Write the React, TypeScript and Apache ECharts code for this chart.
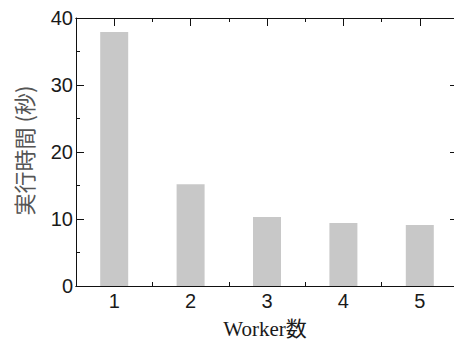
import React, { useEffect, useRef } from "react";
import * as echarts from "echarts";

const categories = ["1", "2", "3", "4", "5"];
const execTimes = [37.9, 15.2, 10.3, 9.4, 9.1];
const yTicks = { min: 0, max: 40, interval: 10 };
const xName = "Worker数";
const yName = "実行時間 (秒)";

export default function App() {
  const ref = useRef<HTMLDivElement>(null);
  useEffect(() => {
    if (!ref.current) return;
    const chart = echarts.init(ref.current, undefined, { renderer: "svg" });
    const lineColor = "#111";
    const baseCat = (position: string, major: boolean, showLabel: boolean, withName: boolean) => ({
      type: "category",
      data: categories,
      position,
      boundaryGap: true,
      axisLine: { show: true, onZero: false, lineStyle: { color: lineColor, width: 1 } },
      axisTick: {
        show: true,
        inside: true,
        alignWithLabel: major,
        length: major ? 8 : 4,
        lineStyle: { color: lineColor, width: 1 },
      },
      axisLabel: {
        show: showLabel,
        margin: 5,
        color: "#1a1a1a",
        fontSize: 20,
        fontFamily: "'Liberation Sans', Arial, sans-serif",
      },
      splitLine: { show: false },
      ...(withName
        ? {
            name: xName,
            nameLocation: "middle",
            nameGap: 32,
            nameTextStyle: {
              color: "#1a1a1a",
              fontSize: 21,
              fontFamily: "'Liberation Serif', 'DejaVu Serif', 'Noto Sans CJK JP', serif",
              padding: [0, 4, 0, 0],
            },
          }
        : {}),
    });
    const baseVal = (position: string, showLabel: boolean, withName: boolean) => ({
      type: "value",
      position,
      min: yTicks.min,
      max: yTicks.max,
      interval: yTicks.interval,
      axisLine: { show: true, onZero: false, lineStyle: { color: lineColor, width: 1 } },
      axisTick: { show: true, inside: true, length: 8, lineStyle: { color: lineColor, width: 1 } },
      minorTick: { show: true, splitNumber: 2, length: 4, lineStyle: { color: lineColor, width: 1 } },
      axisLabel: {
        show: showLabel,
        margin: 3,
        color: "#1a1a1a",
        fontSize: 20,
        fontFamily: "'Liberation Sans', Arial, sans-serif",
      },
      splitLine: { show: false },
      ...(withName
        ? {
            name: yName,
            nameLocation: "middle",
            nameGap: 42,
            nameTextStyle: {
              color: "#555",
              fontSize: 22,
              fontFamily: "'Noto Sans CJK JP', sans-serif",
              padding: [0, 0, 0, 3],
            },
          }
        : {}),
    });
    chart.setOption({
      animation: false,
      grid: { left: 76, right: 12, top: 18, bottom: 53, containLabel: false },
      xAxis: [
        baseCat("bottom", true, true, true),
        baseCat("bottom", false, false, false),
        baseCat("top", true, false, false),
        baseCat("top", false, false, false),
      ],
      yAxis: [baseVal("left", true, true), baseVal("right", false, false)],
      series: [
        {
          type: "bar",
          xAxisIndex: 0,
          yAxisIndex: 0,
          data: execTimes,
          barWidth: 28,
          itemStyle: { color: "#c8c8c8" },
        },
      ],
    });
    return () => chart.dispose();
  }, []);
  return (
    <div style={{ position: "fixed", left: 0, top: 0, width: 454, height: 344, overflow: "hidden", background: "#fff" }}>
      <div ref={ref} style={{ width: 470, height: 344 }} />
    </div>
  );
}
